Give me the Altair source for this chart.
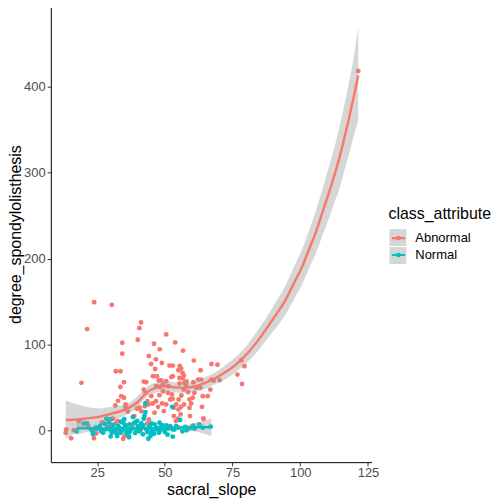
import altair as alt
import pandas as pd

# class colours (ggplot default hue palette)
classes = ["Abnormal", "Normal"]
palette = ["#F8766D", "#00BFC4"]
band_keys = ["Abnormal band", "Normal band"]

# scatter points
abnormal_x = [13.6, 13.4, 15.4, 16.4, 18.3, 19.2, 21.3, 23.9, 30.4, 23.8,
              23.7, 24.7, 26.7, 29.1, 21.7, 28.7, 32.1, 41.2, 40.6, 40.0,
              34.3, 34.3, 31.9, 33.6, 34.9, 50.5, 46.0, 48.1, 53.8, 56.7,
              44.1, 46.7, 44.9, 48.9, 46.4, 60.7, 51.7, 52.9, 67.2, 69.4,
              63.2, 78.2, 79.4, 76.8, 78.5, 121.4, 67.2, 70.2, 31.7, 32.7,
              33.9, 34.9, 35.5, 33.6, 36.3, 35.5, 38.7, 39.2, 39.7, 40.7,
              42.2, 43.1, 42.2, 42.6, 41.3, 43.5, 42.9, 44.0, 45.0, 45.5,
              46.2, 44.1, 34.6, 36.6, 45.6, 47.1, 47.8, 48.7, 46.8, 48.0,
              49.3, 50.5, 51.3, 49.3, 51.1, 52.6, 52.0, 50.5, 49.0, 47.5,
              48.0, 46.7, 52.9, 53.3, 53.3, 54.2, 55.0, 55.1, 56.1, 56.0,
              57.1, 55.8, 54.8, 57.0, 55.4, 57.2, 57.8, 58.6, 59.1, 59.7,
              59.1, 60.3, 60.9, 61.6, 62.3, 63.4, 63.1, 64.0, 65.8, 63.7,
              64.3, 59.3, 55.0, 55.5, 56.0, 56.5, 57.0, 55.4, 56.6, 52.9,
              52.4, 66.8, 68.0, 60.5, 58.0, 27.1, 30.8, 32.6, 35.1, 54.1,
              64.2, 49.6, 30.0, 33.0, 38.0, 41.0, 45.0, 27.0, 36.0, 43.5]
abnormal_y = [1.2, -2.7, -9.3, 0.2, 11.0, 55.3, 117.9, 149.2, 146.1, -9.3,
              -1.5, -3.5, 8.9, 12.8, 5.0, 4.3, 8.9, 125.6, 119.0, 105.5,
              102.0, 89.3, 68.8, 68.8, 56.0, 111.7, 100.9, 94.3, 102.4, 92.8,
              86.6, 82.7, 77.3, 78.5, 71.5, 81.2, 75.4, 75.4, 77.3, 76.5,
              70.0, 81.6, 74.6, 64.9, 54.1, 418.5, 59.1, 58.4, 29.0, 34.4,
              39.8, 37.9, 30.2, 50.6, 22.0, 26.7, 16.6, 9.7, 25.1, 26.3,
              56.8, 56.0, 47.5, 28.2, 22.4, 34.0, 43.7, 30.2, 39.8, 31.3,
              20.5, 12.8, -9.7, -6.6, 63.0, 63.0, 58.0, 58.0, 51.4, 50.6,
              53.3, 57.2, 51.4, 45.6, 43.7, 41.7, 35.9, 30.2, 31.3, 27.4,
              41.0, 34.0, 36.7, 26.3, 16.6, 30.2, 24.4, 35.9, 40.6, 27.4,
              30.2, 18.6, 13.5, 47.5, 54.5, 55.3, 52.2, 44.5, 35.9, 31.3,
              26.3, 37.9, 43.7, 49.5, 59.1, 59.1, 49.5, 39.8, 39.8, 27.4,
              13.5, 16.6, 70.0, 75.0, 72.0, 67.0, 64.0, 61.0, 60.5, 63.0,
              62.0, 47.5, 58.0, 56.0, 57.0, 8.9, 13.5, 10.8, -6.6, 10.8,
              13.5, 22.4, 5.0, 2.0, 7.0, 0.0, -3.0, -1.0, 4.0, 8.0]

normal_x = [17.4, 20.1, 21.3, 23.2, 23.5, 26.0, 27.2, 28.4, 28.4, 29.9,
            30.4, 30.9, 31.5, 32.4, 32.7, 33.3, 33.6, 34.6, 35.2, 35.8,
            37.0, 37.6, 38.2, 38.8, 39.5, 40.7, 41.3, 41.9, 42.2, 42.8,
            42.8, 43.1, 43.9, 44.4, 45.0, 46.2, 46.8, 47.8, 48.7, 49.5,
            50.5, 51.7, 52.7, 52.9, 52.9, 54.2, 55.6, 58.7, 59.9, 62.7,
            66.9, 25.0, 26.5, 29.0, 30.0, 31.0, 32.0, 33.0, 34.0, 34.5,
            35.5, 36.0, 36.5, 37.0, 38.0, 39.0, 40.0, 40.5, 41.0, 42.0,
            43.5, 44.0, 45.0, 45.5, 46.0, 47.0, 48.0, 49.0, 50.0, 51.0,
            52.0, 53.5, 55.0, 56.5, 57.5, 61.0, 64.0, 33.8, 36.8, 39.8,
            44.7, 30.0, 27.8, 24.5, 22.7, 48.0, 51.0, 58.0, 60.5, 42.5,
            35.0, 29.4]
normal_y = [-1.2, 8.1, 8.1, -0.8, -4.6, 5.0, -2.7, 1.2, 13.5, 12.8,
            -2.7, 6.6, -0.8, -6.6, 5.0, 1.2, -2.7, 8.9, 3.1, -1.9,
            7.0, 1.2, 15.5, 8.9, -0.8, 3.1, 8.1, -4.6, 13.5, 21.3,
            31.3, 1.2, -9.7, 4.3, -1.9, 7.0, 1.2, -2.7, 4.3, 1.2,
            5.8, 3.1, 27.4, -7.3, 1.2, 5.0, 12.0, 1.9, 3.1, 7.0,
            4.3, 2.0, -1.0, 3.0, 0.0, 2.5, -3.0, 4.0, -1.0, 2.0,
            6.0, -4.0, 1.0, -2.0, 3.0, -3.0, 5.0, -1.0, 2.0, 6.0,
            -2.0, 3.0, 8.0, 0.0, -4.0, 3.0, -1.0, 6.0, -2.0, 2.0,
            5.0, 1.0, 3.0, -1.0, 4.0, 2.0, 3.0, 10.0, -8.0, 11.0,
            -6.5, -7.0, 7.5, 3.5, 1.5, 9.0, -5.0, 0.0, 5.5, 17.0,
            13.0, 9.5]

# loess fits and confidence bands
abn_fit_x = [13.4, 17, 20, 26, 31, 36, 40, 43, 47, 50.4,
             53.5, 56.6, 61.5, 65, 68.8, 72, 76, 80, 84, 87.2,
             90.9, 94.6, 97.6, 100.7, 103, 105.6, 108, 110.5, 112.5, 114.2,
             116, 117.8, 119.5, 121.4]
abn_fit_y = [12, 12.5, 13.5, 16, 20, 25, 33, 43, 50, 51.4,
             50, 49.5, 51.4, 55.5, 61, 67, 76, 88, 103, 117,
             134, 152, 171, 190.6, 209, 229.3, 252, 275.8, 296, 314.4,
             337, 360.8, 385, 413]
abn_fit_lo = [-10.4, -3, 2, 7, 12, 18.6, 27, 37.9, 44, 45.6,
              44.5, 43.7, 45.6, 48.5, 54, 59, 67, 78, 91, 104,
              119, 135, 152, 170, 187, 205, 225, 246, 264, 279,
              299, 319, 340, 361]
abn_fit_hi = [34.8, 31, 28, 25.5, 28, 31, 40, 49.5, 56, 57.2,
              56, 55.3, 57.2, 62, 68, 75, 85, 98, 115, 130,
              149, 169, 190, 211, 231, 254, 279, 306, 328, 350,
              375, 402, 430, 469]

nor_fit_x = [17.4, 22, 27, 32, 37, 42, 47, 52, 57, 62, 67.2]
nor_fit_y = [2.5, 2.3, 2.2, 2.2, 2.3, 2.5, 2.8, 3.1, 3.4, 3.6, 3.8]
nor_fit_lo = [-5, -1.5, 0, 0.6, 1, 1.2, 1.3, 1.3, 0.7, -1.6, -6.6]
nor_fit_hi = [10, 6.1, 4.4, 3.8, 3.6, 3.8, 4.3, 4.9, 6.1, 8.8, 14.2]

points = pd.DataFrame({
    "sacral_slope": abnormal_x + normal_x,
    "degree_spondylolisthesis": abnormal_y + normal_y,
    "point_class": ["Abnormal"] * len(abnormal_x) + ["Normal"] * len(normal_x),
})

smooth = pd.DataFrame({
    "sacral_slope": abn_fit_x + nor_fit_x,
    "fit": abn_fit_y + nor_fit_y,
    "lo": abn_fit_lo + nor_fit_lo,
    "hi": abn_fit_hi + nor_fit_hi,
    "class_attribute": ["Abnormal"] * len(abn_fit_x) + ["Normal"] * len(nor_fit_x),
    "band_group": [band_keys[0]] * len(abn_fit_x) + [band_keys[1]] * len(nor_fit_x),
})

font = "Liberation Sans"

x_scale = alt.Scale(domain=[7.9, 126.3], nice=False, zero=False)
y_scale = alt.Scale(domain=[-37, 494], nice=False, zero=False)
x_axis = alt.Axis(values=[25, 50, 75, 100, 125], title="sacral_slope",
                  labelPadding=1, titlePadding=2)
y_axis = alt.Axis(values=[0, 100, 200, 300, 400], title="degree_spondylolisthesis",
                  labelPadding=2, titlePadding=0)

legend_common = dict(
    orient="none", legendX=339, legendY=201, padding=0, rowPadding=0,
    symbolSize=289, titlePadding=6, labelOffset=7,
    titleFont=font, titleFontSize=16, titleFontWeight="normal", titleColor="black",
    labelFont=font, labelFontSize=13, labelColor="black",
)

dots = alt.Chart(points).mark_circle(size=24, opacity=1).encode(
    x=alt.X("sacral_slope:Q", scale=x_scale, axis=x_axis),
    y=alt.Y("degree_spondylolisthesis:Q", scale=y_scale, axis=y_axis),
    color=alt.Color("point_class:N", scale=alt.Scale(range=palette), legend=None),
)

# grey key boxes: a label-less legend drawn under the line legend
band = alt.Chart(smooth).mark_area(opacity=0.4, interpolate="monotone").encode(
    x=alt.X("sacral_slope:Q", scale=x_scale, axis=x_axis),
    y=alt.Y("lo:Q", scale=y_scale, axis=y_axis),
    y2="hi:Q",
    fill=alt.Fill("band_group:N",
                  scale=alt.Scale(domain=band_keys, range=["#999999", "#999999"]),
                  legend=alt.Legend(title=" ", symbolType="square",
                                    titleOpacity=0, labelExpr="''",
                                    **legend_common)),
)

lines = alt.Chart(smooth).mark_line(strokeWidth=2.4, interpolate="monotone").encode(
    x=alt.X("sacral_slope:Q", scale=x_scale, axis=x_axis),
    y=alt.Y("fit:Q", scale=y_scale, axis=y_axis),
    stroke=alt.Stroke("class_attribute:N", scale=alt.Scale(domain=classes, range=palette),
                      legend=alt.Legend(title="class_attribute",
                                        symbolType="M-0.78,0L0.78,0M-0.15,0A0.15,0.15,0,1,1,0.15,0A0.15,0.15,0,1,1,-0.15,0Z",
                                        symbolStrokeWidth=2.2,
                                        **legend_common)),
)

chart = alt.layer(dots, band, lines).properties(
    width=322,
    height=458,
    autosize="none",
    padding={"left": 43, "top": -3, "right": 125, "bottom": 40},
).configure_view(
    stroke=None
).configure_axis(
    grid=False,
    domainColor="black",
    domainWidth=1,
    tickColor="#333333",
    tickWidth=1,
    tickSize=3.7,
    labelFont=font,
    labelFontSize=13,
    labelColor="#4D4D4D",
    titleFont=font,
    titleFontSize=16,
    titleFontWeight="normal",
    titleColor="black",
)

chart.save("out.html", embed_options={"renderer": "svg", "actions": False})
